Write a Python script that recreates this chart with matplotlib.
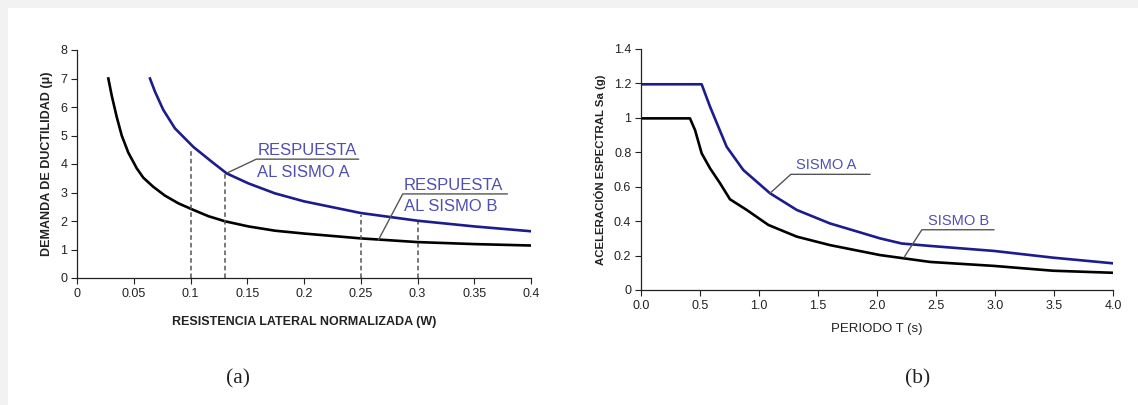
import matplotlib
matplotlib.use("Agg")
import matplotlib.pyplot as plt
from matplotlib.patches import Rectangle

# ---------------- data: panel (a) ----------------
res_b = [0.0276, 0.0306, 0.035, 0.0394, 0.0452, 0.0526, 0.0584, 0.0672, 0.0775, 0.0893,
         0.1025, 0.1157, 0.1304, 0.151, 0.1744, 0.2, 0.25, 0.3, 0.35, 0.4]
duct_b = [7.0, 6.4, 5.65, 5.0, 4.4, 3.85, 3.52, 3.2, 2.89, 2.62,
          2.39, 2.17, 1.99, 1.81, 1.66, 1.56, 1.39, 1.26, 1.19, 1.14]
res_a = [0.0643, 0.0687, 0.076, 0.0863, 0.1025, 0.1187, 0.1319, 0.151, 0.1744,
         0.2, 0.25, 0.3, 0.35, 0.4]
duct_a = [7.0, 6.54, 5.9, 5.25, 4.6, 4.08, 3.67, 3.32, 2.97,
          2.69, 2.28, 2.01, 1.81, 1.64]
dash_x = [0.1, 0.13, 0.25, 0.3]
dash_top = [4.5, 3.7, 2.2, 1.95]
xt_a = [0, 0.05, 0.1, 0.15, 0.2, 0.25, 0.3, 0.35, 0.4]
xtl_a = ["0", "0.05", "0.1", "0.15", "0.2", "0.25", "0.3", "0.35", "0.4"]
yt_a = [0, 1, 2, 3, 4, 5, 6, 7, 8]

# ---------------- data: panel (b) ----------------
per_a = [0.0, 0.514, 0.585, 0.655, 0.726, 0.867, 1.093, 1.32, 1.60, 1.884, 2.025,
         2.21, 2.45, 2.99, 3.49, 4.0]
sa_a = [1.195, 1.195, 1.065, 0.949, 0.832, 0.697, 0.562, 0.465, 0.387, 0.329, 0.30,
        0.27, 0.256, 0.227, 0.188, 0.155]
per_b = [0.0, 0.415, 0.458, 0.514, 0.585, 0.67, 0.754, 0.896, 1.079, 1.32, 1.60, 2.025,
         2.45, 2.99, 3.49, 4.0]
sa_b = [0.997, 0.997, 0.929, 0.794, 0.707, 0.62, 0.527, 0.465, 0.378, 0.31, 0.261, 0.203,
        0.163, 0.14, 0.112, 0.10]
xt_b = [0.0, 0.5, 1.0, 1.5, 2.0, 2.5, 3.0, 3.5, 4.0]
yt_b = [0, 0.2, 0.4, 0.6, 0.8, 1.0, 1.2, 1.4]
ytl_b = ["0", "0.2", "0.4", "0.6", "0.8", "1", "1.2", "1.4"]

BLUE = "#1c1c8c"
TXT = "#4f4fb2"
FONT = "Liberation Sans"

W, H = 1138, 405
fig = plt.figure(figsize=(W / 100, H / 100), dpi=100)
fig.patch.set_facecolor("#f2f2f2")
bg = Rectangle((8 / W, 0), 1, 1 - 8 / H, transform=fig.transFigure,
               facecolor="white", edgecolor="none", zorder=-10)
fig.add_artist(bg)

def style(ax):
    for s in ["top", "right"]:
        ax.spines[s].set_visible(False)
    for s in ["left", "bottom"]:
        ax.spines[s].set_color("#222222")
        ax.spines[s].set_linewidth(0.9)
    ax.tick_params(direction="out", length=4, width=0.8, colors="#222222",
                   labelsize=9, pad=3)
    for lab in ax.get_xticklabels() + ax.get_yticklabels():
        lab.set_fontfamily(FONT)
    ax.set_facecolor("none")

# ---------------- panel (a) ----------------
ax1 = fig.add_axes([77 / W, 1 - 278 / H, 454 / W, 228 / H])
ax1.plot(res_b, duct_b, color="black", lw=1.9)
ax1.plot(res_a, duct_a, color=BLUE, lw=1.9)
for x, t in zip(dash_x, dash_top):
    ax1.plot([x, x], [0, t], color="#555555", lw=1.1, ls=(0, (3, 2)))
ax1.set_xlim(0, 0.4)
ax1.set_ylim(0, 8)
ax1.set_xticks(xt_a)
ax1.set_xticklabels(xtl_a)
ax1.set_yticks(yt_a)
style(ax1)
ax1.set_xlabel("RESISTENCIA LATERAL NORMALIZADA (W)", fontsize=9, fontweight="bold",
               family=FONT, color="#222222", labelpad=12)
ax1.set_ylabel("DEMANDA DE DUCTILIDAD (μ)", fontsize=9, fontweight="bold",
               family=FONT, color="#222222", labelpad=5)
# annotation A
ax1.plot([0.133, 0.158, 0.248], [3.70, 4.17, 4.17], color="#555555", lw=1.0)
ax1.text(0.159, 4.2, "RESPUESTA", color=TXT, fontsize=12, family=FONT,
         va="bottom", ha="left")
ax1.text(0.159, 3.98, "AL SISMO A", color=TXT, fontsize=12, family=FONT,
         va="top", ha="left")
# annotation B
ax1.plot([0.2655, 0.287, 0.379], [1.33, 2.95, 2.95], color="#555555", lw=1.0)
ax1.text(0.288, 2.98, "RESPUESTA", color=TXT, fontsize=12, family=FONT,
         va="bottom", ha="left")
ax1.text(0.288, 2.76, "AL SISMO B", color=TXT, fontsize=12, family=FONT,
         va="top", ha="left")

# ---------------- panel (b) ----------------
ax2 = fig.add_axes([641 / W, 1 - 290 / H, 472 / W, 241 / H])
ax2.plot(per_b, sa_b, color="black", lw=1.9)
ax2.plot(per_a, sa_a, color=BLUE, lw=1.9)
ax2.set_xlim(0, 4.0)
ax2.set_ylim(0, 1.4)
ax2.set_xticks(xt_b)
ax2.set_xticklabels([f"{v:.1f}" for v in xt_b])
ax2.set_yticks(yt_b)
ax2.set_yticklabels(ytl_b)
style(ax2)
ax2.set_xlabel("PERIODO T (s)", fontsize=9.5, family=FONT, color="#222222", labelpad=8)
ax2.set_ylabel("ACELERACIÓN ESPECTRAL Sa (g)", fontsize=8.2, fontweight="bold",
               family=FONT, color="#222222", labelpad=6)
ax2.plot([1.093, 1.27, 1.94], [0.562, 0.672, 0.672], color="#555555", lw=1.0)
ax2.text(1.31, 0.685, "SISMO A", color=TXT, fontsize=10.5, family=FONT, va="bottom", ha="left")
ax2.plot([2.23, 2.38, 2.99], [0.19, 0.35, 0.35], color="#555555", lw=1.0)
ax2.text(2.43, 0.36, "SISMO B", color=TXT, fontsize=10.5, family=FONT, va="bottom", ha="left")

# panel labels
fig.text(238 / W, 1 - 379 / H, "(a)", fontsize=15.5, family="Liberation Serif",
         ha="center", va="center", color="#222222")
fig.text(918 / W, 1 - 379 / H, "(b)", fontsize=15.5, family="Liberation Serif",
         ha="center", va="center", color="#222222")

fig.savefig("out.png", dpi=100, facecolor=fig.get_facecolor())
